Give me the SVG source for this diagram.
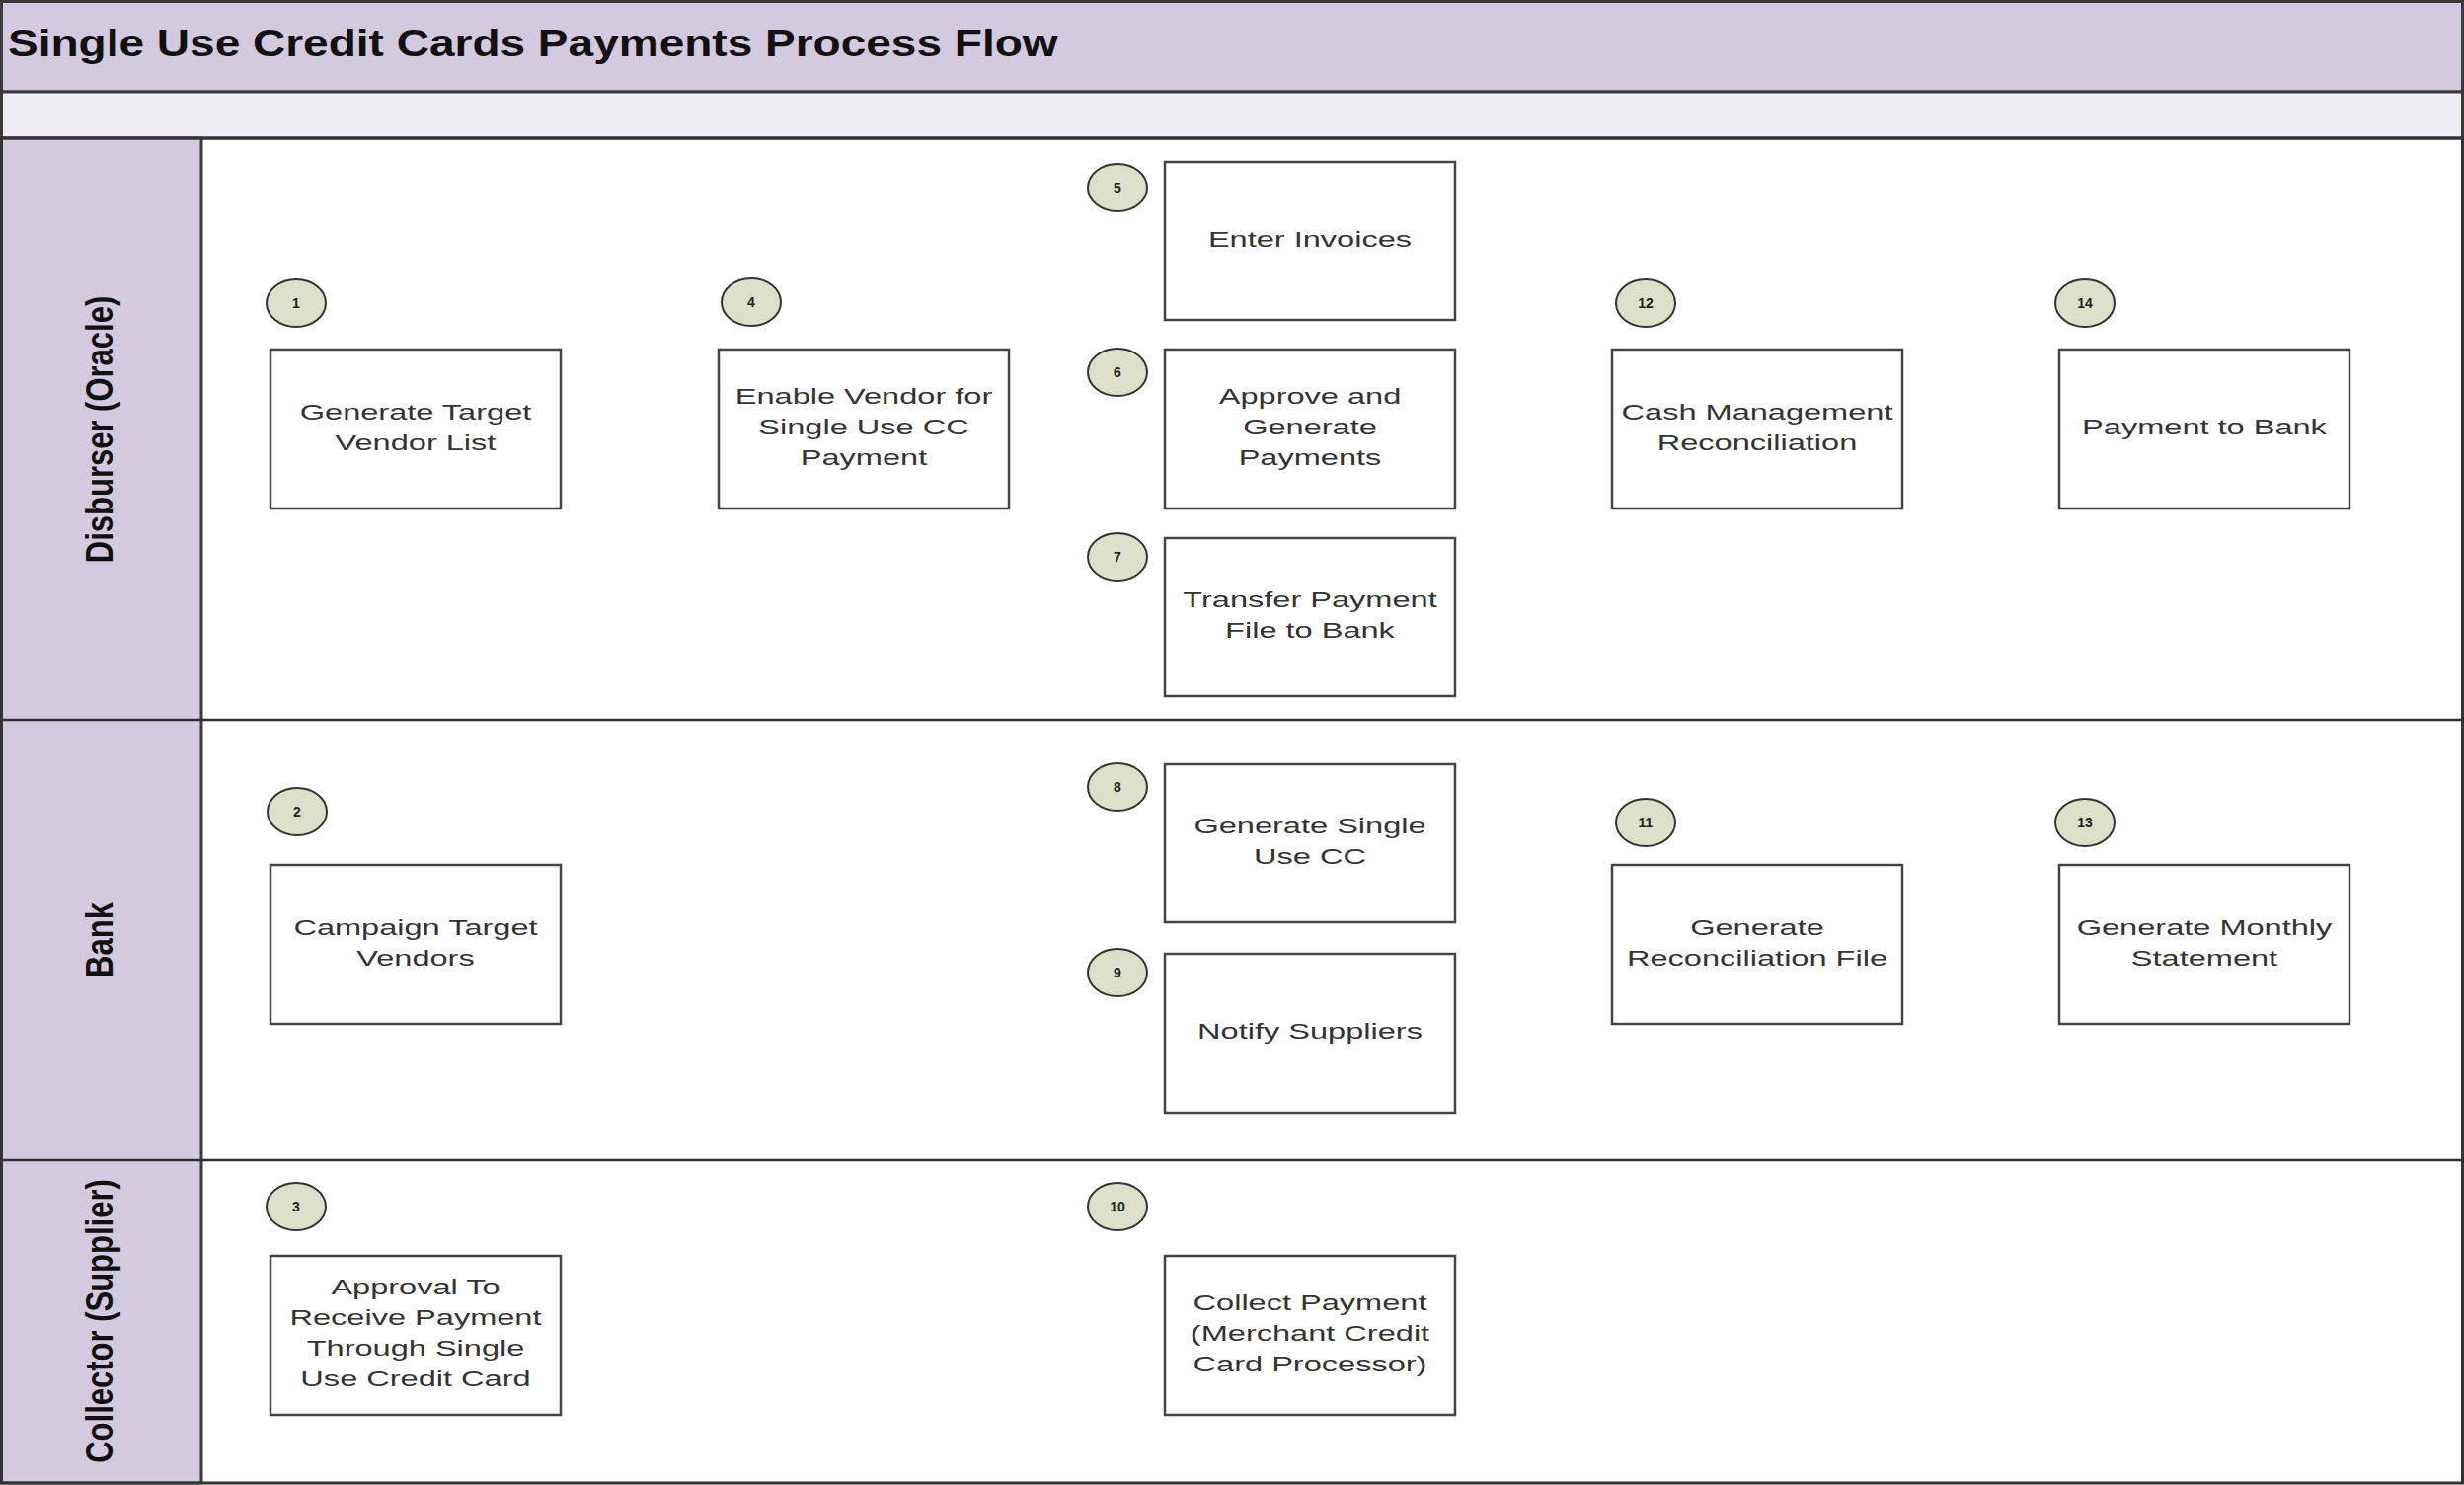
<svg xmlns="http://www.w3.org/2000/svg" width="2496" height="1504" viewBox="0 0 2496 1504">
<style>
.band{fill:#d4cadf;stroke:#3a3a3a;stroke-width:3}
.sub{fill:#f0eef4;stroke:#3a3a3a;stroke-width:3}
.hdr{fill:#d4cadf;stroke:#3a3a3a;stroke-width:3}
.sep{stroke:#2e2e2e;stroke-width:2.5;fill:none}
.box{fill:#ffffff;stroke:#444444;stroke-width:2.5}
.num{fill:#dde0c9;stroke:#333333;stroke-width:2}
.t{font-family:"Liberation Sans",Arial,sans-serif;font-size:22px;fill:#333333;text-anchor:middle}
.n{font-family:"Liberation Sans",Arial,sans-serif;font-size:14px;font-weight:bold;fill:#222;text-anchor:middle}
.lane{font-family:"Liberation Sans",Arial,sans-serif;font-size:31px;font-weight:bold;fill:#111;text-anchor:middle}
.title{font-family:"Liberation Sans",Arial,sans-serif;font-size:39px;font-weight:bold;fill:#111}
</style>
<rect x="0" y="0" width="2496" height="1504" fill="#ffffff"/>
<g id="pool">
<rect class="band" x="1.5" y="1.5" width="2493" height="91.5"/>
<rect class="sub" x="1.5" y="93" width="2493" height="47"/>
<rect class="hdr" x="1.5" y="140" width="202.5" height="1362"/>
<line class="sep" x1="0" y1="729" x2="2496" y2="729"/>
<line class="sep" x1="0" y1="1175" x2="2496" y2="1175"/>
<rect x="1.5" y="140" width="2493" height="1362" fill="none" stroke="#333" stroke-width="3"/>
<text class="title" transform="translate(8,57) scale(1.18,1)">Single Use Credit Cards Payments Process Flow</text>
</g>
<g id="lane-disburser"><text class="lane" transform="translate(114,435) scale(1.27,1) rotate(-90)">Disburser (Oracle)</text></g>
<g id="lane-bank"><text class="lane" transform="translate(114,952) scale(1.27,1) rotate(-90)">Bank</text></g>
<g id="lane-collector"><text class="lane" transform="translate(114,1338) scale(1.27,1) rotate(-90)">Collector (Supplier)</text></g>
<g id="connectors"></g>

<g id="node1">
<rect class="box" x="274" y="354" width="294" height="161"/>
<ellipse class="num" cx="300" cy="307" rx="30" ry="24"/><text class="n" x="300" y="312">1</text>
<text class="t" transform="translate(421,425) scale(1.48,1)">Generate Target</text>
<text class="t" transform="translate(421,456) scale(1.48,1)">Vendor List</text>
</g>
<g id="node4">
<rect class="box" x="728" y="354" width="294" height="161"/>
<ellipse class="num" cx="761" cy="306" rx="30" ry="24"/><text class="n" x="761" y="311">4</text>
<text class="t" transform="translate(875,409) scale(1.48,1)">Enable Vendor for</text>
<text class="t" transform="translate(875,440) scale(1.48,1)">Single Use CC</text>
<text class="t" transform="translate(875,471) scale(1.48,1)">Payment</text>
</g>
<g id="node5">
<rect class="box" x="1180" y="164" width="294" height="160"/>
<ellipse class="num" cx="1132" cy="190" rx="30" ry="24"/><text class="n" x="1132" y="195">5</text>
<text class="t" transform="translate(1327,250) scale(1.48,1)">Enter Invoices</text>
</g>
<g id="node6">
<rect class="box" x="1180" y="354" width="294" height="161"/>
<ellipse class="num" cx="1132" cy="377" rx="30" ry="24"/><text class="n" x="1132" y="382">6</text>
<text class="t" transform="translate(1327,409) scale(1.48,1)">Approve and</text>
<text class="t" transform="translate(1327,440) scale(1.48,1)">Generate</text>
<text class="t" transform="translate(1327,471) scale(1.48,1)">Payments</text>
</g>
<g id="node7">
<rect class="box" x="1180" y="545" width="294" height="160"/>
<ellipse class="num" cx="1132" cy="564" rx="30" ry="24"/><text class="n" x="1132" y="569">7</text>
<text class="t" transform="translate(1327,615) scale(1.48,1)">Transfer Payment</text>
<text class="t" transform="translate(1327,646) scale(1.48,1)">File to Bank</text>
</g>
<g id="node12">
<rect class="box" x="1633" y="354" width="294" height="161"/>
<ellipse class="num" cx="1667" cy="307" rx="30" ry="24"/><text class="n" x="1667" y="312">12</text>
<text class="t" transform="translate(1780,425) scale(1.48,1)">Cash Management</text>
<text class="t" transform="translate(1780,456) scale(1.48,1)">Reconciliation</text>
</g>
<g id="node14">
<rect class="box" x="2086" y="354" width="294" height="161"/>
<ellipse class="num" cx="2112" cy="307" rx="30" ry="24"/><text class="n" x="2112" y="312">14</text>
<text class="t" transform="translate(2233,440) scale(1.48,1)">Payment to Bank</text>
</g>
<g id="node2">
<rect class="box" x="274" y="876" width="294" height="161"/>
<ellipse class="num" cx="301" cy="822" rx="30" ry="24"/><text class="n" x="301" y="827">2</text>
<text class="t" transform="translate(421,947) scale(1.48,1)">Campaign Target</text>
<text class="t" transform="translate(421,978) scale(1.48,1)">Vendors</text>
</g>
<g id="node8">
<rect class="box" x="1180" y="774" width="294" height="160"/>
<ellipse class="num" cx="1132" cy="797" rx="30" ry="24"/><text class="n" x="1132" y="802">8</text>
<text class="t" transform="translate(1327,844) scale(1.48,1)">Generate Single</text>
<text class="t" transform="translate(1327,875) scale(1.48,1)">Use CC</text>
</g>
<g id="node9">
<rect class="box" x="1180" y="966" width="294" height="161"/>
<ellipse class="num" cx="1132" cy="985" rx="30" ry="24"/><text class="n" x="1132" y="990">9</text>
<text class="t" transform="translate(1327,1052) scale(1.48,1)">Notify Suppliers</text>
</g>
<g id="node11">
<rect class="box" x="1633" y="876" width="294" height="161"/>
<ellipse class="num" cx="1667" cy="833" rx="30" ry="24"/><text class="n" x="1667" y="838">11</text>
<text class="t" transform="translate(1780,947) scale(1.48,1)">Generate</text>
<text class="t" transform="translate(1780,978) scale(1.48,1)">Reconciliation File</text>
</g>
<g id="node13">
<rect class="box" x="2086" y="876" width="294" height="161"/>
<ellipse class="num" cx="2112" cy="833" rx="30" ry="24"/><text class="n" x="2112" y="838">13</text>
<text class="t" transform="translate(2233,947) scale(1.48,1)">Generate Monthly</text>
<text class="t" transform="translate(2233,978) scale(1.48,1)">Statement</text>
</g>
<g id="node3">
<rect class="box" x="274" y="1272" width="294" height="161"/>
<ellipse class="num" cx="300" cy="1222" rx="30" ry="24"/><text class="n" x="300" y="1227">3</text>
<text class="t" transform="translate(421,1311) scale(1.48,1)">Approval To</text>
<text class="t" transform="translate(421,1342) scale(1.48,1)">Receive Payment</text>
<text class="t" transform="translate(421,1373) scale(1.48,1)">Through Single</text>
<text class="t" transform="translate(421,1404) scale(1.48,1)">Use Credit Card</text>
</g>
<g id="node10">
<rect class="box" x="1180" y="1272" width="294" height="161"/>
<ellipse class="num" cx="1132" cy="1222" rx="30" ry="24"/><text class="n" x="1132" y="1227">10</text>
<text class="t" transform="translate(1327,1327) scale(1.48,1)">Collect Payment</text>
<text class="t" transform="translate(1327,1358) scale(1.48,1)">(Merchant Credit</text>
<text class="t" transform="translate(1327,1389) scale(1.48,1)">Card Processor)</text>
</g>
</svg>
